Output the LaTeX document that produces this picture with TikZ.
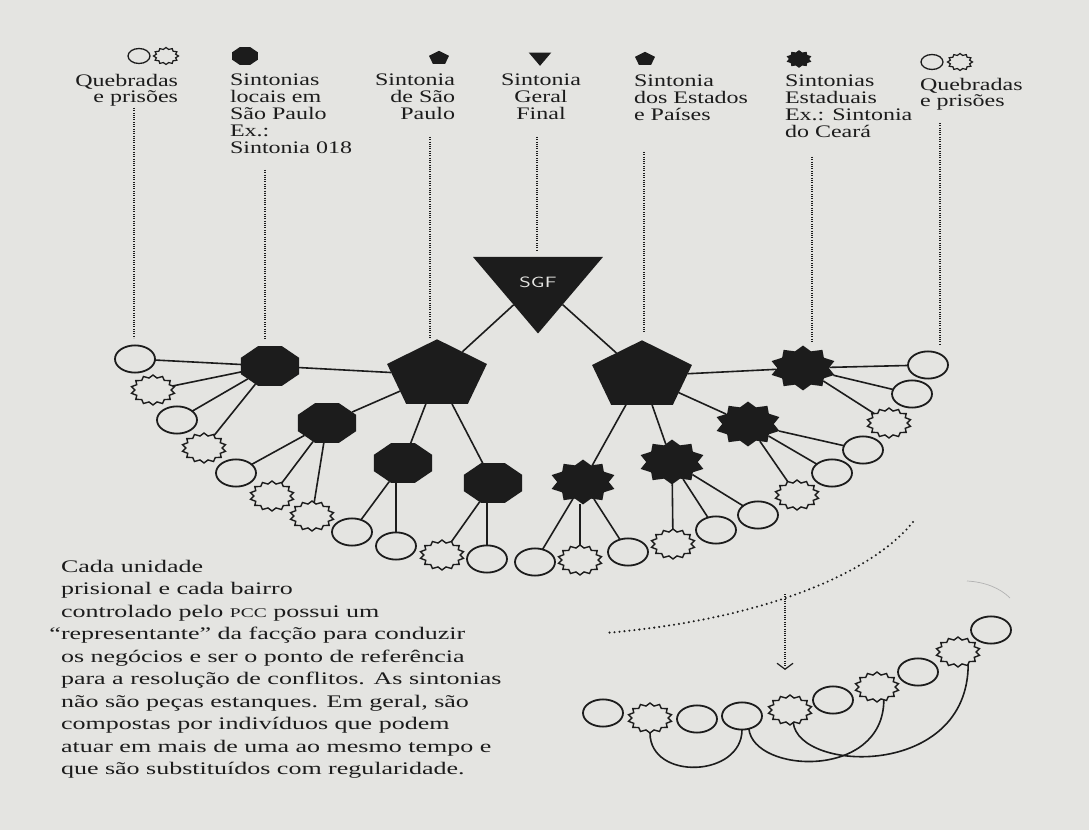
\documentclass[tikz,border=0pt]{standalone}
\usepackage{fontspec}
\setmainfont{Liberation Serif}
\usetikzlibrary{shapes.geometric,arrows.meta}
\definecolor{paper}{RGB}{228,228,225}
\definecolor{ink}{RGB}{28,28,28}

\begin{document}
\begin{tikzpicture}[
  x=1pt, y=-1.4706pt, yscale=0.68, transform shape,
  every node/.style={inner sep=0pt, outer sep=0pt},
  ring/.style={circle, draw=ink, fill=paper, line width=1.8pt, minimum size=40pt},
  burst/.style={star, star points=14, star point ratio=1.22, draw=ink, fill=paper, line width=1.4pt, minimum size=44pt},
  oct/.style={regular polygon, regular polygon sides=8, fill=ink, minimum size=63pt},
  penta/.style={regular polygon, regular polygon sides=5, fill=ink, minimum size=105pt},
  sun/.style={star, star points=10, star point ratio=1.28, fill=ink, minimum size=66pt},
  sgf/.style={regular polygon, regular polygon sides=3, shape border rotate=180, fill=ink, minimum size=150pt, text=paper, font=\sffamily\fontsize{22}{22}\selectfont},
  iring/.style={circle, draw=ink, line width=1.3pt, minimum size=22pt},
  iburst/.style={star, star points=12, star point ratio=1.25, draw=ink, line width=1.2pt, minimum size=25pt},
  ioct/.style={regular polygon, regular polygon sides=8, fill=ink, minimum size=28pt},
  ipenta/.style={regular polygon, regular polygon sides=5, fill=ink, minimum size=21pt},
  itri/.style={regular polygon, regular polygon sides=3, shape border rotate=180, fill=ink, minimum size=26pt},
  isun/.style={star, star points=10, star point ratio=1.28, fill=ink, minimum size=26pt},
  link/.style={draw=ink, line width=1.6pt},
  guide/.style={draw=ink, line width=1.2pt, dash pattern=on 1pt off 1.3pt},
  dots/.style={draw=ink, line width=2.3pt, line cap=round, dash pattern=on 0pt off 5pt},
  lbl/.style={yscale=1.08, text=ink, font=\fontsize{24}{23.1}\selectfont},
  note/.style={text=ink, align=left, font=\fontsize{26}{33.1}\selectfont},
]
\fill[paper] (0,0) rectangle (1089,830);
\useasboundingbox (0,0) rectangle (1089,830);

% legend
\node[iring] (kq1) at (139,56) {};
\node[iburst] (kq2) at (166,56) {};
\node[ioct] (kloc) at (245,56) {};
\node[ipenta] (ksp) at (439,58) {};
\node[itri] (ksgf) at (540,57) {};
\node[ipenta] (kest) at (645,59) {};
\node[isun] (kce) at (799,59) {};
\node[iring] (kq3) at (932,62) {};
\node[iburst] (kq4) at (960,62) {};

\node[lbl, align=right, anchor=north east] (lq1) at (178,73.8) {Quebradas\\e prisões};
\node[lbl, align=left, anchor=north west] (lloc) at (230,73.8) {Sintonias\\locais em\\São Paulo\\Ex.:\\Sintonia 018};
\node[lbl, align=right, anchor=north east] (lsp) at (455,73.8) {Sintonia\\de São\\Paulo};
\node[lbl, align=center, anchor=north] (lsgf) at (541,73.8) {Sintonia\\Geral\\Final};
\node[lbl, align=left, anchor=north west] (lest) at (634,74.8) {Sintonia\\dos Estados\\e Países};
\node[lbl, align=left, anchor=north west] (lce) at (785,74.8) {Sintonias\\Estaduais\\Ex.: Sintonia\\do Ceará};
\node[lbl, align=left, anchor=north west] (lq2) at (920,77.8) {Quebradas\\e prisões};

\coordinate (q1t) at (134,108);  \coordinate (q1b) at (134,338);
\coordinate (loct) at (265,170); \coordinate (locb) at (265,338);
\coordinate (spt) at (430,137);  \coordinate (spb) at (430,338);
\coordinate (sgft) at (537,137); \coordinate (sgfb) at (537,250);
\coordinate (estt) at (644,152); \coordinate (estb) at (644,333);
\coordinate (cet) at (812,157);  \coordinate (ceb) at (812,342);
\coordinate (q2t) at (940,123);  \coordinate (q2b) at (940,344);
\draw[guide] (q1t) -- (q1b);
\draw[guide] (loct) -- (locb);
\draw[guide] (spt) -- (spb);
\draw[guide] (sgft) -- (sgfb);
\draw[guide] (estt) -- (estb);
\draw[guide] (cet) -- (ceb);
\draw[guide] (q2t) -- (q2b);

% network
\node[sgf] (sgf) at (538,282.5) {SGF};
\node[penta] (sp) at (437,375) {};
\node[penta] (se) at (642,376) {};

\node[oct] (o1) at (270,366) {};
\node[oct] (o2) at (327,423) {};
\node[oct] (o3) at (403,463) {};
\node[oct] (o4) at (493,483) {};
\node[sun] (t1) at (583,482) {};
\node[sun] (t2) at (672,462) {};
\node[sun] (t3) at (748,424) {};
\node[sun] (t4) at (803,368) {};

\node[ring] (a1) at (135,359) {};
\node[burst] (s1) at (153,390) {};
\node[ring] (a2) at (177,420) {};
\node[burst] (s2) at (204,448) {};
\node[ring] (a3) at (236,473) {};
\node[burst] (s3) at (272,496) {};
\node[burst] (s4) at (312,516) {};
\node[ring] (a4) at (352,532) {};
\node[ring] (a5) at (396,546) {};
\node[burst] (s5) at (442,555) {};
\node[ring] (a6) at (487,559) {};
\node[ring] (a7) at (535,562) {};
\node[burst] (s6) at (580,560) {};
\node[ring] (a8) at (628,552) {};
\node[burst] (s7) at (673,544) {};
\node[ring] (a9) at (716,530) {};
\node[ring] (a10) at (758,515) {};
\node[burst] (s8) at (797,495) {};
\node[ring] (a11) at (832,473) {};
\node[ring] (a12) at (863,450) {};
\node[burst] (s9) at (889,423) {};
\node[ring] (a14) at (912,394) {};
\node[ring] (a13) at (928,365) {};

\draw[link] (sgf) -- (sp);
\draw[link] (sgf) -- (se);
\draw[link] (sp) -- (o1);
\draw[link] (sp) -- (o2);
\draw[link] (sp) -- (o3);
\draw[link] (sp) -- (o4);
\draw[link] (o1) -- (a1);
\draw[link] (o1) -- (s1);
\draw[link] (o1) -- (a2);
\draw[link] (o1) -- (s2);
\draw[link] (o2) -- (a3);
\draw[link] (o2) -- (s3);
\draw[link] (o2) -- (s4);
\draw[link] (o3) -- (a4);
\draw[link] (a5 |- o3.south) -- (a5);
\draw[link] (o4) -- (s5);
\draw[link] (a6 |- o4.south) -- (a6);
\draw[link] (se) -- (t1);
\draw[link] (se) -- (t2);
\draw[link] (se) -- (t3);
\draw[link] (se) -- (t4);
\draw[link] (t1) -- (a7);
\draw[link] (s6 |- t1.south) -- (s6);
\draw[link] (t1) -- (a8);
\draw[link] (t2) -- (s7);
\draw[link] (t2) -- (a9);
\draw[link] (t2) -- (a10);
\draw[link] (t3) -- (s8);
\draw[link] (t3) -- (a11);
\draw[link] (t3) -- (a12);
\draw[link] (t4) -- (s9);
\draw[link] (t4) -- (a14);
\draw[link] (t4) -- (a13);

% zoomed chain
\coordinate (arcr) at (913,522);
\coordinate (arcl) at (605,633);
\coordinate (dropt) at (785,594);
\coordinate (dropb) at (785,670);
\draw[dots] (arcr) .. controls (870,575) and (760,620) .. (arcl);
\draw[guide, -{Straight Barb[length=6pt, width=16pt, line width=1.2pt]}] (dropt) -- (dropb);

\node[ring] (b1) at (603,713) {};
\node[burst] (b2) at (650,718) {};
\node[ring] (b3) at (697,719) {};
\node[ring] (b4) at (742,716) {};
\node[burst] (b5) at (790,710) {};
\node[ring] (b6) at (833,700) {};
\node[burst] (b7) at (877,687) {};
\node[ring] (b8) at (918,672) {};
\node[burst] (b9) at (958,652) {};
\node[ring] (b10) at (991,630) {};
\draw[link] (b2.south) .. controls +(0,48) and +(0,48) .. (b4.south);
\draw[link] (b4.-70) .. controls +(5,45) and +(0,80) .. (b7.-70);
\draw[link] (b5.-80) .. controls +(5,50) and +(0,115) .. (b9.-60);
\draw[gray!60, line width=0.7pt] (967,581) .. controls (985,582) and (1000,588) .. (1010,598);

\node[note, anchor=north west] (txt) at (61,559.8) {Cada unidade\\%
prisional e cada bairro\\%
controlado pelo {\fontsize{19.5}{0}\selectfont PCC} possui um\\%
\llap{“}representante” da facção para conduzir\\%
os negócios e ser o ponto de referência\\%
para a resolução de conflitos. As sintonias\\%
não são peças estanques. Em geral, são\\%
compostas por indivíduos que podem\\%
atuar em mais de uma ao mesmo tempo e\\%
que são substituídos com regularidade.};
\end{tikzpicture}
\end{document}
